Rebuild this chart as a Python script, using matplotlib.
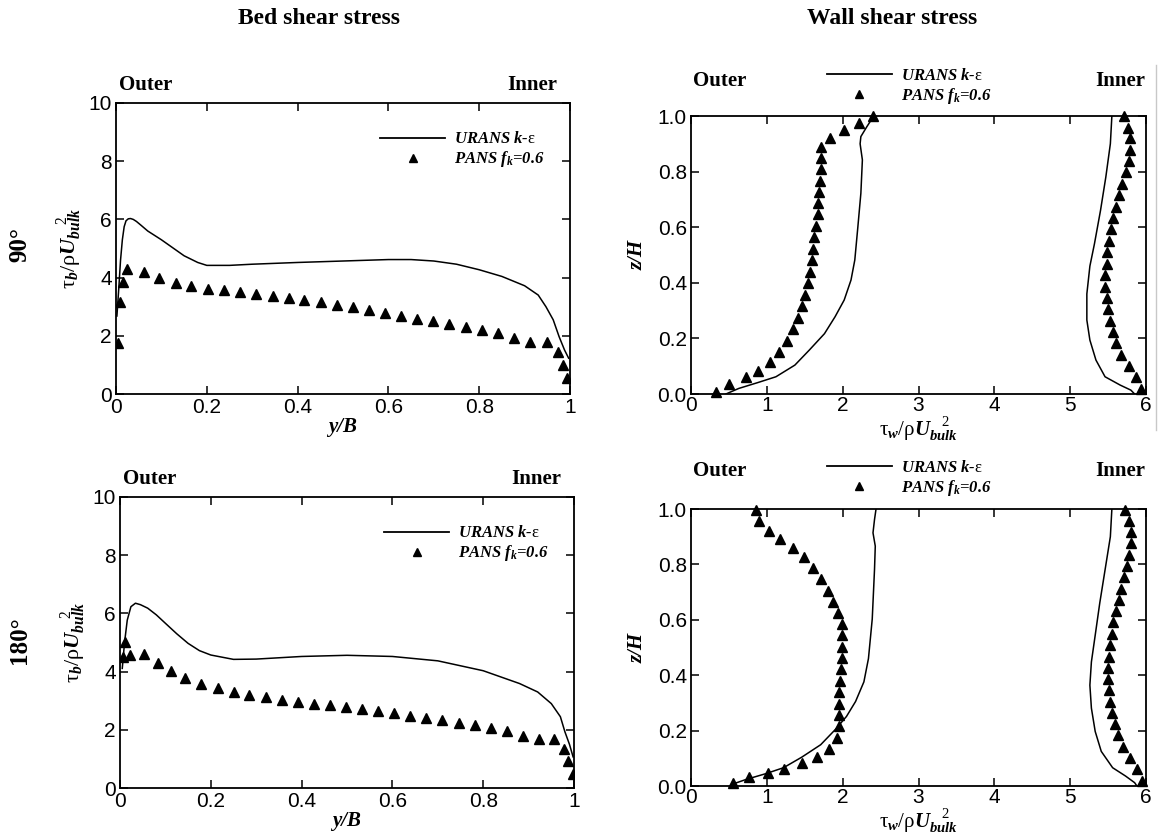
import matplotlib
matplotlib.use('Agg')
import matplotlib.pyplot as plt
from matplotlib.lines import Line2D

plt.rcParams['font.family'] = 'Liberation Sans'
plt.rcParams['mathtext.fontset'] = 'custom'
plt.rcParams['mathtext.rm'] = 'Liberation Serif'
plt.rcParams['mathtext.it'] = 'Liberation Serif:italic:bold'
plt.rcParams['mathtext.bf'] = 'Liberation Serif:bold'

# ---- bed shear stress, 90 deg ----
bed90_urans_y = [0.002, 0.006, 0.010, 0.014, 0.018, 0.022, 0.027, 0.032, 0.038, 0.045, 0.055,
                 0.07, 0.085, 0.1, 0.12, 0.15, 0.18, 0.2, 0.25, 0.3, 0.4, 0.5, 0.6, 0.65,
                 0.7, 0.75, 0.8, 0.85, 0.9, 0.93, 0.947, 0.963, 0.976, 0.988, 0.997]
bed90_urans_t = [2.68, 3.6, 4.6, 5.3, 5.75, 5.95, 6.02, 6.03, 6.0, 5.93, 5.8,
                 5.6, 5.45, 5.3, 5.08, 4.75, 4.52, 4.42, 4.42, 4.46, 4.52, 4.57, 4.62, 4.62,
                 4.57, 4.46, 4.27, 4.04, 3.72, 3.4, 3.0, 2.55, 1.97, 1.51, 1.23]
bed90_pans_y = [0.004, 0.008, 0.015, 0.024, 0.061, 0.095, 0.132, 0.165, 0.202, 0.237, 0.273,
                0.309, 0.345, 0.380, 0.415, 0.451, 0.486, 0.522, 0.557, 0.593, 0.628, 0.664,
                0.699, 0.734, 0.770, 0.806, 0.841, 0.877, 0.912, 0.949, 0.973, 0.984, 0.994]
bed90_pans_t = [1.74, 3.15, 3.84, 4.30, 4.19, 3.98, 3.83, 3.72, 3.62, 3.56, 3.49,
                3.42, 3.36, 3.29, 3.23, 3.15, 3.06, 2.98, 2.89, 2.78, 2.68, 2.59,
                2.50, 2.40, 2.29, 2.20, 2.09, 1.94, 1.80, 1.80, 1.46, 1.00, 0.54]

# ---- bed shear stress, 180 deg ----
bed180_urans_y = [0.005, 0.010, 0.016, 0.024, 0.034, 0.045, 0.061, 0.08, 0.1, 0.125, 0.15,
                  0.175, 0.2, 0.25, 0.3, 0.4, 0.5, 0.6, 0.7, 0.8, 0.88, 0.92, 0.95,
                  0.97, 0.98, 0.99, 0.998]
bed180_urans_t = [4.11, 5.0, 5.77, 6.23, 6.35, 6.3, 6.18, 5.95, 5.66, 5.3, 4.97,
                  4.72, 4.57, 4.42, 4.43, 4.52, 4.56, 4.52, 4.37, 4.03, 3.59, 3.3, 2.9,
                  2.45, 1.93, 1.5, 1.07]
bed180_pans_y = [0.0065, 0.012, 0.022, 0.053, 0.084, 0.112, 0.144, 0.179, 0.215, 0.250, 0.285,
                 0.321, 0.357, 0.392, 0.428, 0.463, 0.498, 0.534, 0.568, 0.603, 0.638, 0.675,
                 0.710, 0.746, 0.781, 0.817, 0.852, 0.887, 0.923, 0.957, 0.977, 0.987, 0.998]
bed180_pans_t = [4.51, 5.03, 4.57, 4.59, 4.31, 4.03, 3.79, 3.58, 3.44, 3.30, 3.21,
                 3.12, 3.04, 2.96, 2.90, 2.84, 2.78, 2.71, 2.64, 2.57, 2.49, 2.42,
                 2.33, 2.24, 2.15, 2.06, 1.95, 1.80, 1.69, 1.68, 1.35, 0.93, 0.47]

# ---- wall shear stress, 90 deg (outer and inner walls) ----
wall90_outer_urans_t = [0.46, 0.63, 0.88, 1.12, 1.37, 1.56, 1.76, 1.90, 2.02, 2.11, 2.16,
                        2.20, 2.24, 2.26, 2.23, 2.24, 2.32, 2.41]
wall90_outer_urans_z = [0.0, 0.02, 0.041, 0.062, 0.104, 0.158, 0.217, 0.278, 0.338, 0.41, 0.482,
                        0.60, 0.722, 0.842, 0.90, 0.926, 0.962, 1.0]
wall90_outer_pans_t = [0.33, 0.50, 0.72, 0.89, 1.04, 1.16, 1.27, 1.35, 1.41, 1.46, 1.50,
                       1.54, 1.57, 1.59, 1.61, 1.62, 1.65, 1.67, 1.68, 1.69, 1.70, 1.71,
                       1.71, 1.71, 1.83, 2.02, 2.22, 2.40]
wall90_outer_pans_z = [0.008, 0.036, 0.06, 0.084, 0.115, 0.151, 0.192, 0.233, 0.275, 0.317, 0.356,
                       0.398, 0.439, 0.482, 0.523, 0.564, 0.604, 0.646, 0.688, 0.727, 0.767, 0.809,
                       0.850, 0.89, 0.922, 0.948, 0.974, 1.0]
wall90_inner_urans_t = [5.85, 5.80, 5.66, 5.46, 5.34, 5.26, 5.22, 5.22, 5.26, 5.32, 5.40,
                        5.47, 5.53, 5.55]
wall90_inner_urans_z = [0.0, 0.014, 0.032, 0.062, 0.122, 0.194, 0.266, 0.36, 0.46, 0.54, 0.66,
                        0.78, 0.90, 1.0]
wall90_inner_pans_t = [5.94, 5.87, 5.77, 5.67, 5.60, 5.56, 5.53, 5.50, 5.48, 5.46, 5.46,
                       5.48, 5.49, 5.51, 5.54, 5.57, 5.60, 5.65, 5.69, 5.73, 5.77, 5.79,
                       5.79, 5.76, 5.71]
wall90_inner_pans_z = [0.017, 0.06, 0.10, 0.141, 0.182, 0.223, 0.264, 0.305, 0.345, 0.386, 0.428,
                       0.469, 0.51, 0.552, 0.592, 0.633, 0.674, 0.716, 0.757, 0.797, 0.838, 0.878,
                       0.92, 0.958, 1.0]

# ---- wall shear stress, 180 deg ----
wall180_outer_urans_t = [0.54, 0.73, 0.98, 1.22, 1.46, 1.71, 1.90, 2.05, 2.17, 2.28, 2.34,
                         2.39, 2.42, 2.43, 2.40, 2.42, 2.44]
wall180_outer_urans_z = [0.006, 0.024, 0.044, 0.066, 0.104, 0.149, 0.203, 0.251, 0.305, 0.376, 0.46,
                         0.603, 0.782, 0.866, 0.914, 0.962, 1.0]
wall180_outer_pans_t = [0.56, 0.77, 1.01, 1.22, 1.46, 1.66, 1.82, 1.93, 1.95, 1.95, 1.95,
                        1.95, 1.96, 1.98, 1.99, 1.99, 1.99, 1.99, 1.94, 1.87, 1.80, 1.72,
                        1.61, 1.49, 1.34, 1.18, 1.03, 0.90, 0.86]
wall180_outer_pans_z = [0.012, 0.032, 0.048, 0.063, 0.084, 0.104, 0.135, 0.173, 0.216, 0.257, 0.297,
                        0.338, 0.38, 0.421, 0.463, 0.502, 0.544, 0.586, 0.625, 0.665, 0.705, 0.747,
                        0.787, 0.826, 0.86, 0.892, 0.922, 0.956, 0.998]
wall180_inner_urans_t = [5.88, 5.85, 5.73, 5.56, 5.41, 5.33, 5.28, 5.26, 5.28, 5.33, 5.39,
                         5.46, 5.53, 5.55]
wall180_inner_urans_z = [0.0, 0.012, 0.036, 0.066, 0.125, 0.197, 0.281, 0.364, 0.448, 0.544, 0.66,
                         0.78, 0.90, 1.0]
wall180_inner_pans_t = [5.95, 5.88, 5.79, 5.70, 5.63, 5.59, 5.55, 5.53, 5.51, 5.50, 5.50,
                        5.51, 5.53, 5.55, 5.57, 5.61, 5.64, 5.67, 5.71, 5.75, 5.78, 5.80,
                        5.80, 5.77, 5.72]
wall180_inner_pans_z = [0.018, 0.06, 0.102, 0.142, 0.183, 0.223, 0.263, 0.305, 0.345, 0.386, 0.427,
                        0.466, 0.508, 0.55, 0.591, 0.63, 0.671, 0.711, 0.753, 0.795, 0.835, 0.876,
                        0.916, 0.956, 0.998]

col_titles = ['Bed shear stress', 'Wall shear stress']
row_titles = ['90°', '180°']
lab_urans = r'URANS k-$\mathrm{\varepsilon}$'
lab_pans = r'PANS $f_k$=0.6'

W, H = 1160, 838
SERIF_B = dict(family='Liberation Serif', weight='bold')
SERIF_BI = dict(family='Liberation Serif', weight='bold', style='italic')


def px_rect(x0, y0, x1, y1):
    return [x0 / W, 1 - y1 / H, (x1 - x0) / W, (y1 - y0) / H]


def style_axes(ax, xpad=3):
    for s in ax.spines.values():
        s.set_linewidth(1.3)
    ax.tick_params(direction='in', top=True, right=True, length=6, width=1.1,
                   labelsize=15, pad=3)
    ax.tick_params(axis='x', pad=xpad)


def add_legend(ax, anchor):
    h1 = Line2D([], [], color='black', lw=1.3)
    h2 = Line2D([], [], color='black', marker='^', ls='none', ms=6)
    ax.legend([h1, h2], [lab_urans, lab_pans], loc='center left', bbox_to_anchor=anchor,
              frameon=False, borderpad=0, borderaxespad=0, handlelength=3.9,
              handletextpad=0.55, labelspacing=0.12, numpoints=1,
              prop=dict(size=12, **SERIF_BI))


def bed_panel(ax, y_u, t_u, y_p, t_p, top_y):
    ax.plot(y_u, t_u, color='black', lw=1.1)
    ax.plot(y_p, t_p, ls='none', marker='^', color='black', ms=6.5)
    ax.set_xlim(0, 1)
    ax.set_ylim(0, 10)
    ax.set_xticks([0, 0.2, 0.4, 0.6, 0.8, 1])
    ax.set_xticklabels(['0', '0.2', '0.4', '0.6', '0.8', '1'])
    ax.set_yticks([0, 2, 4, 6, 8, 10])
    style_axes(ax)
    ax.set_xlabel('y/B', fontsize=15, labelpad=0, **SERIF_BI)
    ax.set_ylabel(r'$\mathrm{\tau}_b/\mathrm{\rho}U_{bulk}^{\ \ \ 2}$', fontsize=16)
    ax.yaxis.set_label_coords(-0.07, 0.5)
    ax.text(0.006, top_y, 'Outer', transform=ax.transAxes, ha='left', va='center',
            fontsize=15, **SERIF_B)
    ax.text(0.972, top_y, 'Inner', transform=ax.transAxes, ha='right', va='center',
            fontsize=15, **SERIF_B)
    add_legend(ax, (0.582, 0.837))


def wall_panel(ax, curves, top_y, leg_y):
    for t_u, z_u, t_p, z_p in curves:
        ax.plot(t_u, z_u, color='black', lw=1.1)
        ax.plot(t_p, z_p, ls='none', marker='^', color='black', ms=6.5, clip_on=False)
    ax.set_xlim(0, 6)
    ax.set_ylim(0, 1)
    ax.set_xticks(range(7))
    ax.set_yticks([0, 0.2, 0.4, 0.6, 0.8, 1.0])
    ax.set_yticklabels(['0.0', '0.2', '0.4', '0.6', '0.8', '1.0'])
    style_axes(ax, xpad=1.5)
    ax.set_xlabel(r'$\mathrm{\tau}_w/\mathrm{\rho}U_{bulk}^{\ \ \ 2}$', fontsize=15, labelpad=0.5)
    ax.set_ylabel('z/H', fontsize=15, **SERIF_BI)
    ax.yaxis.set_label_coords(-0.095, 0.5)
    ax.text(0.004, top_y, 'Outer', transform=ax.transAxes, ha='left', va='center',
            fontsize=15, **SERIF_B)
    ax.text(0.998, top_y, 'Inner', transform=ax.transAxes, ha='right', va='center',
            fontsize=15, **SERIF_B)
    add_legend(ax, (0.298, leg_y))


fig = plt.figure(figsize=(W / 100, H / 100), dpi=100)

ax_tl = fig.add_axes(px_rect(116, 103, 570, 394))
ax_tr = fig.add_axes(px_rect(691, 116, 1146, 394))
ax_bl = fig.add_axes(px_rect(120, 497, 574, 788))
ax_br = fig.add_axes(px_rect(691, 509, 1146, 786))

bed_panel(ax_tl, bed90_urans_y, bed90_urans_t, bed90_pans_y, bed90_pans_t, 1.062)
bed_panel(ax_bl, bed180_urans_y, bed180_urans_t, bed180_pans_y, bed180_pans_t, 1.062)
wall_panel(ax_tr, [(wall90_outer_urans_t, wall90_outer_urans_z, wall90_outer_pans_t, wall90_outer_pans_z),
                   (wall90_inner_urans_t, wall90_inner_urans_z, wall90_inner_pans_t, wall90_inner_pans_z)],
           1.126, 1.104)
wall_panel(ax_br, [(wall180_outer_urans_t, wall180_outer_urans_z, wall180_outer_pans_t, wall180_outer_pans_z),
                   (wall180_inner_urans_t, wall180_inner_urans_z, wall180_inner_pans_t, wall180_inner_pans_z)],
           1.136, 1.108)

fig.text(319 / W, 1 - 19 / H, col_titles[0], ha='center', va='center', fontsize=17, **SERIF_B)
fig.text(892 / W, 1 - 19 / H, col_titles[1], ha='center', va='center', fontsize=17, **SERIF_B)
fig.text(20 / W, 1 - 245 / H, row_titles[0], rotation=90, ha='center', va='center',
         fontsize=18, **SERIF_B)
fig.text(20 / W, 1 - 640 / H, row_titles[1], rotation=90, ha='center', va='center',
         fontsize=18, **SERIF_B)

# thin scan edge on the right side
fig.add_artist(Line2D([1156 / W, 1156 / W], [1 - 65 / H, 1 - 430 / H], color='#c8c8c8', lw=1))

fig.savefig('out.png', dpi=100)
